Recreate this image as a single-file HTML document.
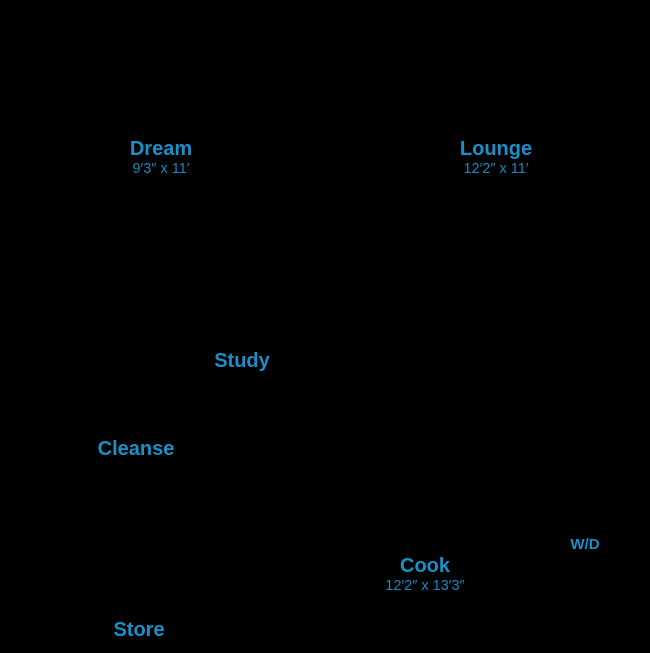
<!DOCTYPE html>
<html><head><meta charset="utf-8"><style>
html,body{margin:0;padding:0;background:#000;width:650px;height:653px;overflow:hidden}
.t{position:absolute;width:200px;text-align:center;color:#1a8fc8;font-family:"Liberation Sans",sans-serif;white-space:nowrap}
.b{font-weight:bold;font-size:20px;line-height:20px;letter-spacing:0px}
.s{font-size:14.5px;line-height:14px;color:#1787bd}
.w{font-weight:bold;font-size:15px;line-height:14px}
</style></head><body>
<div class="t b" style="left:61px;top:139px">Dream</div>
<div class="t s" style="left:61px;top:162px">9′3″ x 11′</div>
<div class="t b" style="left:396px;top:139px">Lounge</div>
<div class="t s" style="left:396px;top:162px">12′2″ x 11′</div>
<div class="t b" style="left:142px;top:351px">Study</div>
<div class="t b" style="left:36px;top:439px">Cleanse</div>
<div class="t w" style="left:485px;top:538px">W/D</div>
<div class="t b" style="left:325px;top:556px">Cook</div>
<div class="t s" style="left:325px;top:579px">12′2″ x 13′3″</div>
<div class="t b" style="left:39px;top:620px">Store</div>
</body></html>
